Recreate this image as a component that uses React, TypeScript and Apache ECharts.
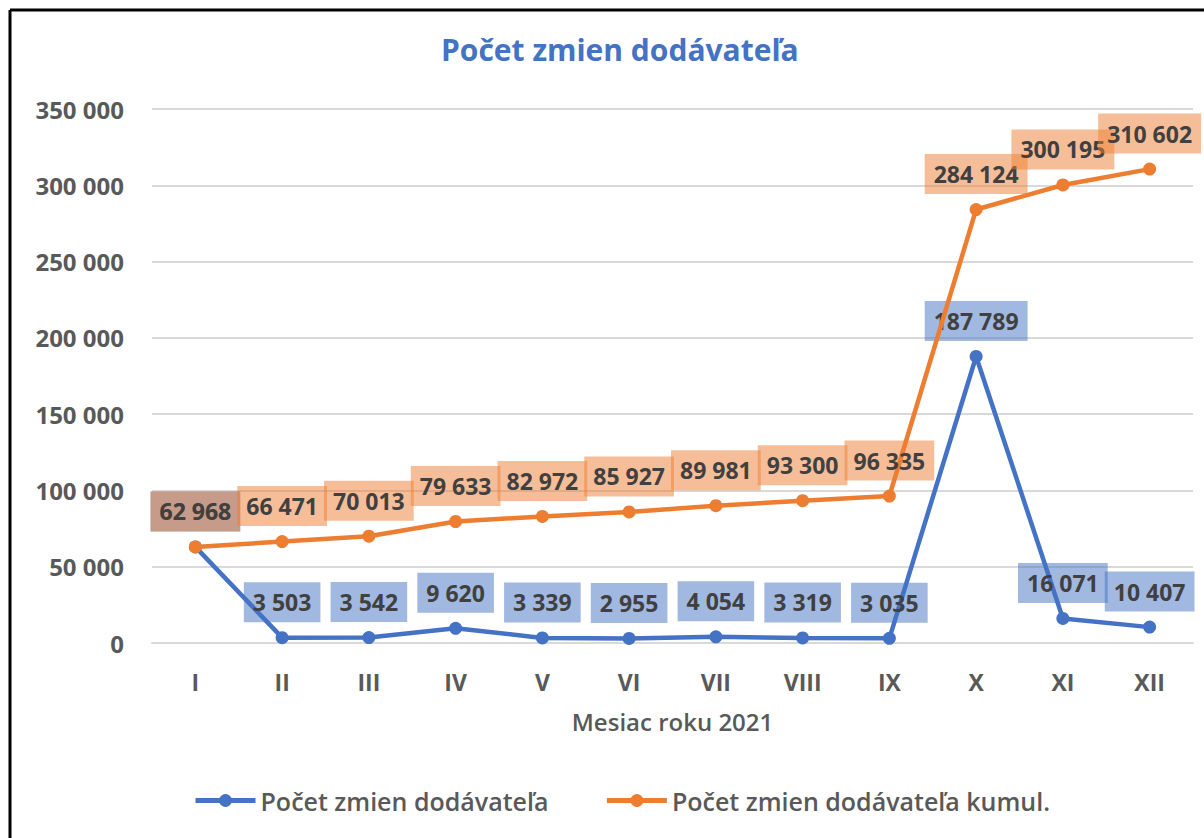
import React, { useEffect, useRef } from "react";
import * as echarts from "echarts";

const categories = ["I", "II", "III", "IV", "V", "VI", "VII", "VIII", "IX", "X", "XI", "XII"];
const monthly = [62968, 3503, 3542, 9620, 3339, 2955, 4054, 3319, 3035, 187789, 16071, 10407];
const cumulative = [62968, 66471, 70013, 79633, 82972, 85927, 89981, 93300, 96335, 284124, 300195, 310602];
const seriesNames = ["Počet zmien dodávateľa", "Počet zmien dodávateľa kumul."];
const titleText = "Počet zmien dodávateľa";
const xAxisName = "Mesiac roku 2021";

const FONT = "'Open Sans', Lato, sans-serif";
const fmt = (v: number) => String(Math.round(v)).replace(/\B(?=(\d{3})+(?!\d))/g, " ");

export default function App() {
  const ref = useRef<HTMLDivElement>(null);
  useEffect(() => {
    if (!ref.current) return;
    const chart = echarts.init(ref.current, undefined, { renderer: "svg" });
    const labelCommon = (bg: string) => ({
      show: true,
      position: "top" as const,
      distance: 9,
      formatter: (p: any) => fmt(p.value),
      color: "#404040",
      fontFamily: FONT,
      fontWeight: "bold" as const,
      fontSize: 23,
      lineHeight: 24,
      backgroundColor: bg,
      padding: [8, 9, 8, 9],
    });
    chart.setOption({
      animation: false,
      backgroundColor: "#ffffff",
      textStyle: { fontFamily: FONT },
      title: {
        text: titleText,
        left: 436,
        top: 29,
        textStyle: { color: "#4472C4", fontSize: 30, fontWeight: "bold", fontFamily: FONT },
      },
      graphic: [
        { type: "line", shape: { x1: 10, y1: 10, x2: 1204, y2: 10 }, style: { stroke: "#000", lineWidth: 3 } },
        { type: "line", shape: { x1: 10, y1: 10, x2: 10, y2: 838 }, style: { stroke: "#000", lineWidth: 3 } },
      ],
      grid: { left: 152, right: 11, top: 109, bottom: 195 },
      legend: {
        bottom: 20,
        left: 188,
        itemWidth: 60,
        itemHeight: 16,
        itemGap: 56,
        lineStyle: { width: 5 },
        textStyle: { color: "#595959", fontSize: 25, fontFamily: FONT, fontWeight: 600 },
        data: seriesNames,
      },
      xAxis: {
        type: "category",
        data: categories,
        boundaryGap: true,
        name: xAxisName,
        nameLocation: "middle",
        nameGap: 66,
        nameTextStyle: { color: "#595959", fontSize: 24, fontWeight: 600, fontFamily: FONT },
        axisLine: { lineStyle: { color: "#d9d9d9", width: 2 } },
        axisTick: { show: false },
        axisLabel: { color: "#595959", fontSize: 23, fontWeight: "bold", fontFamily: FONT, margin: 27 },
      },
      yAxis: {
        type: "value",
        min: 0,
        max: 350000,
        interval: 50000,
        axisLine: { show: false },
        axisTick: { show: false },
        splitLine: { lineStyle: { color: "#d9d9d9", width: 2 } },
        axisLabel: {
          color: "#595959",
          fontSize: 24,
          fontWeight: "bold",
          fontFamily: FONT,
          margin: 28,
          formatter: (v: number) => fmt(v),
        },
      },
      series: [
        {
          name: seriesNames[0],
          type: "line",
          data: monthly,
          color: "#4472C4",
          lineStyle: { width: 4.5, color: "#4472C4" },
          symbol: "circle",
          symbolSize: 13,
          itemStyle: { color: "#4472C4" },
          label: labelCommon("rgba(68,114,196,0.5)"),
          z: 2,
        },
        {
          name: seriesNames[1],
          type: "line",
          data: cumulative,
          color: "#ED7D31",
          lineStyle: { width: 4.5, color: "#ED7D31" },
          symbol: "circle",
          symbolSize: 13,
          itemStyle: { color: "#ED7D31" },
          label: labelCommon("rgba(237,125,49,0.5)"),
          z: 3,
        },
      ],
    });
    return () => chart.dispose();
  }, []);
  return (
    <div
      ref={ref}
      style={{ position: "fixed", left: 0, top: 0, width: 1204, height: 838, background: "#fff" }}
    />
  );
}
